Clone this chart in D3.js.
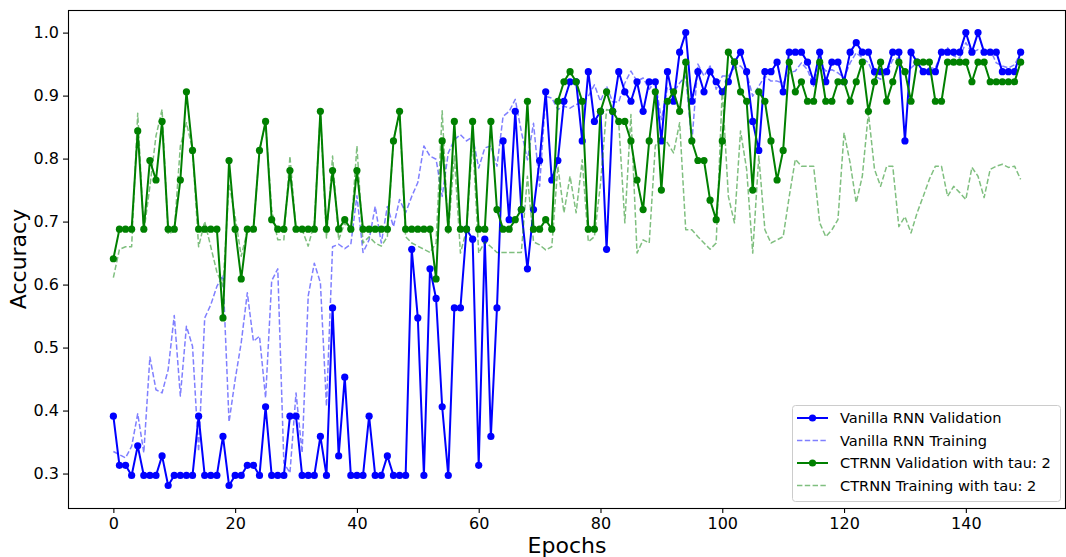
<!DOCTYPE html>
<html>
<head>
<meta charset="utf-8">
<script src="https://cdn.jsdelivr.net/npm/d3@7"></script>
<style>
  html, body { margin: 0; padding: 0; background: #ffffff; }
  svg { display: block; font-family: "DejaVu Sans", sans-serif; }
</style>
</head>
<body>
<svg id="chart" width="1066" height="557"></svg>
<script>
// ---------------- data ----------------
const xTicks = [0, 20, 40, 60, 80, 100, 120, 140];
const yTicks = [0.3, 0.4, 0.5, 0.6, 0.7, 0.8, 0.9, 1.0];
const seriesNames = [
  "Vanilla RNN Validation",
  "Vanilla RNN Training",
  "CTRNN Validation with tau: 2",
  "CTRNN Training with tau: 2"
];

const vanillaVal = [
  0.391,0.313,0.313,0.297,0.344,0.297,0.297,0.297,0.328,0.281,
  0.297,0.297,0.297,0.297,0.391,0.297,0.297,0.297,0.359,0.281,
  0.297,0.297,0.313,0.313,0.297,0.406,0.297,0.297,0.297,0.391,
  0.391,0.297,0.297,0.297,0.359,0.297,0.563,0.328,0.453,0.297,
  0.297,0.297,0.391,0.297,0.297,0.328,0.297,0.297,0.297,0.656,
  0.547,0.297,0.625,0.578,0.406,0.297,0.563,0.563,0.688,0.672,
  0.313,0.672,0.359,0.563,0.828,0.703,0.875,0.719,0.625,0.719,
  0.797,0.906,0.766,0.797,0.891,0.922,0.922,0.828,0.938,0.859,
  0.875,0.656,0.875,0.938,0.906,0.891,0.922,0.875,0.922,0.922,
  0.828,0.938,0.891,0.969,1.000,0.891,0.938,0.906,0.938,0.922,
  0.906,0.922,0.953,0.969,0.938,0.859,0.813,0.938,0.938,0.953,
  0.906,0.969,0.969,0.969,0.953,0.922,0.969,0.922,0.953,0.953,
  0.922,0.969,0.984,0.969,0.969,0.938,0.938,0.938,0.969,0.969,
  0.828,0.969,0.953,0.938,0.938,0.938,0.969,0.969,0.969,0.969,
  1.000,0.969,1.000,0.969,0.969,0.969,0.938,0.938,0.938,0.969
];

const vanillaTrain = [
  0.335,0.330,0.325,0.343,0.395,0.333,0.485,0.433,0.428,0.465,
  0.551,0.423,0.534,0.502,0.335,0.547,0.568,0.597,0.615,0.382,
  0.449,0.508,0.587,0.510,0.518,0.420,0.606,0.625,0.317,0.301,
  0.428,0.333,0.582,0.634,0.603,0.407,0.660,0.664,0.657,0.664,
  0.741,0.651,0.671,0.724,0.666,0.724,0.692,0.735,0.714,0.740,
  0.762,0.820,0.804,0.799,0.740,0.809,0.830,0.838,0.828,0.835,
  0.785,0.817,0.820,0.788,0.867,0.875,0.894,0.843,0.798,0.856,
  0.756,0.899,0.896,0.878,0.883,0.880,0.886,0.888,0.899,0.917,
  0.891,0.915,0.890,0.890,0.920,0.939,0.923,0.928,0.910,0.923,
  0.862,0.913,0.905,0.920,0.931,0.825,0.950,0.931,0.947,0.910,
  0.931,0.931,0.944,0.947,0.936,0.899,0.915,0.931,0.923,0.923,
  0.920,0.936,0.939,0.952,0.941,0.915,0.952,0.939,0.941,0.936,
  0.928,0.952,0.968,0.960,0.952,0.931,0.926,0.936,0.957,0.960,
  0.931,0.944,0.952,0.941,0.944,0.944,0.968,0.976,0.963,0.960,
  0.984,0.968,0.973,0.970,0.973,0.952,0.947,0.944,0.949,0.968
];

const ctrnnVal = [
  0.641,0.688,0.688,0.688,0.844,0.688,0.797,0.766,0.859,0.688,
  0.688,0.766,0.906,0.813,0.688,0.688,0.688,0.688,0.547,0.797,
  0.688,0.609,0.688,0.688,0.813,0.859,0.703,0.688,0.688,0.781,
  0.688,0.688,0.688,0.688,0.875,0.688,0.781,0.688,0.703,0.688,
  0.781,0.688,0.688,0.688,0.688,0.688,0.828,0.875,0.688,0.688,
  0.688,0.688,0.688,0.609,0.828,0.688,0.859,0.688,0.688,0.859,
  0.688,0.688,0.859,0.719,0.688,0.688,0.703,0.719,0.891,0.688,
  0.688,0.703,0.688,0.891,0.922,0.938,0.922,0.891,0.688,0.688,
  0.875,0.906,0.875,0.859,0.859,0.828,0.766,0.719,0.828,0.906,
  0.750,0.891,0.906,0.875,0.953,0.828,0.797,0.797,0.734,0.703,
  0.828,0.969,0.953,0.906,0.891,0.750,0.906,0.891,0.828,0.766,
  0.813,0.953,0.906,0.922,0.891,0.891,0.953,0.891,0.891,0.922,
  0.922,0.891,0.922,0.953,0.875,0.922,0.953,0.891,0.922,0.953,
  0.938,0.891,0.953,0.953,0.953,0.891,0.891,0.953,0.953,0.953,
  0.953,0.922,0.953,0.953,0.922,0.922,0.922,0.922,0.922,0.953
];

const ctrnnTrain = [
  0.611,0.656,0.660,0.660,0.872,0.683,0.756,0.836,0.878,0.680,
  0.685,0.820,0.857,0.814,0.660,0.700,0.660,0.620,0.597,0.760,
  0.708,0.645,0.685,0.687,0.814,0.857,0.719,0.671,0.671,0.804,
  0.687,0.687,0.661,0.698,0.873,0.674,0.804,0.671,0.698,0.682,
  0.820,0.666,0.676,0.666,0.661,0.676,0.830,0.873,0.676,0.666,
  0.661,0.656,0.651,0.666,0.876,0.680,0.804,0.650,0.687,0.830,
  0.650,0.668,0.660,0.651,0.651,0.651,0.651,0.651,0.772,0.668,
  0.663,0.655,0.660,0.788,0.714,0.772,0.714,0.798,0.668,0.676,
  0.760,0.878,0.875,0.857,0.698,0.870,0.650,0.671,0.666,0.820,
  0.836,0.825,0.809,0.857,0.687,0.687,0.676,0.666,0.656,0.666,
  0.910,0.740,0.698,0.844,0.783,0.650,0.804,0.687,0.666,0.671,
  0.676,0.740,0.799,0.788,0.788,0.788,0.698,0.676,0.687,0.703,
  0.841,0.793,0.730,0.772,0.873,0.783,0.756,0.788,0.788,0.692,
  0.708,0.682,0.714,0.740,0.767,0.788,0.788,0.740,0.756,0.746,
  0.735,0.786,0.772,0.738,0.783,0.788,0.791,0.786,0.788,0.767
];

// ---------------- layout ----------------
const plot = { left: 68, right: 1066, top: 10, bottom: 508 };
const nPts = vanillaVal.length;
const xPad = (nPts - 1) * 0.05;

const svg = d3.select("#chart");
const x = d3.scaleLinear().domain([-xPad, (nPts - 1) + xPad]).range([plot.left, plot.right]);
const y = d3.scaleLinear().domain([0.2453, 1.0359]).range([plot.bottom, plot.top]);

const BLUE = "#0000ff", GREEN = "#008000";

svg.append("defs").append("clipPath").attr("id", "clip")
  .append("rect").attr("x", plot.left).attr("y", plot.top)
  .attr("width", plot.right - plot.left).attr("height", plot.bottom - plot.top);

const series = [
  { name: seriesNames[0], values: vanillaVal, color: BLUE, dashed: false, marker: true },
  { name: seriesNames[1], values: vanillaTrain, color: BLUE, dashed: true, marker: false },
  { name: seriesNames[2], values: ctrnnVal, color: GREEN, dashed: false, marker: true },
  { name: seriesNames[3], values: ctrnnTrain, color: GREEN, dashed: true, marker: false }
];

const line = d3.line().x((d, i) => x(i)).y(d => y(d));
const g = svg.append("g").attr("clip-path", "url(#clip)");

series.forEach(s => {
  const sg = g.append("g");
  sg.append("path").datum(s.values)
    .attr("d", line)
    .attr("fill", "none")
    .attr("stroke", s.color)
    .attr("stroke-opacity", s.dashed ? 0.5 : 1)
    .attr("stroke-width", s.dashed ? 1.5 : 2)
    .attr("stroke-dasharray", s.dashed ? "5.4,2.4" : null)
    .attr("stroke-linejoin", "round");
  if (s.marker) {
    sg.selectAll("circle").data(s.values).enter().append("circle")
      .attr("cx", (d, i) => x(i)).attr("cy", d => y(d))
      .attr("r", 3.6).attr("fill", s.color);
  }
});

// ---------------- axes ----------------
const xAxis = d3.axisBottom(x).tickValues(xTicks).tickFormat(d3.format("d"))
  .tickSize(5).tickSizeOuter(0).tickPadding(5);
const yAxis = d3.axisLeft(y).tickValues(yTicks).tickFormat(d3.format(".1f"))
  .tickSize(5).tickSizeOuter(0).tickPadding(4);

const gx = svg.append("g").attr("transform", `translate(0,${plot.bottom})`).call(xAxis);
const gy = svg.append("g").attr("transform", `translate(${plot.left},0)`).call(yAxis);
[gx, gy].forEach(a => {
  a.select(".domain").remove();
  a.selectAll(".tick line").attr("stroke", "#000").attr("stroke-width", 1.1);
  a.selectAll(".tick text").attr("fill", "#000")
    .style("font-family", "DejaVu Sans").style("font-size", "16px");
});

// frame
svg.append("rect")
  .attr("x", plot.left + 0.5).attr("y", plot.top + 0.5)
  .attr("width", plot.right - plot.left - 1).attr("height", plot.bottom - plot.top)
  .attr("fill", "none").attr("stroke", "#000").attr("stroke-width", 1.1);

// axis labels
svg.append("text")
  .attr("x", (plot.left + plot.right) / 2).attr("y", 553)
  .attr("text-anchor", "middle")
  .style("font-size", "22px").attr("fill", "#000")
  .text("Epochs");
svg.append("text")
  .attr("transform", `translate(26,${(plot.top + plot.bottom) / 2}) rotate(-90)`)
  .attr("text-anchor", "middle")
  .style("font-size", "22px").attr("fill", "#000")
  .text("Accuracy");

// ---------------- legend ----------------
const lg = svg.append("g");
lg.append("rect")
  .attr("x", 792.5).attr("y", 405.5).attr("width", 268).attr("height", 96)
  .attr("rx", 3).attr("ry", 3)
  .attr("fill", "#ffffff").attr("fill-opacity", 0.8)
  .attr("stroke", "#cccccc").attr("stroke-width", 1);

series.forEach((s, i) => {
  const yy = 418 + i * 22.5;
  lg.append("line")
    .attr("x1", 797).attr("x2", 828).attr("y1", yy).attr("y2", yy)
    .attr("stroke", s.color)
    .attr("stroke-opacity", s.dashed ? 0.5 : 1)
    .attr("stroke-width", s.dashed ? 1.5 : 2)
    .attr("stroke-dasharray", s.dashed ? "5.4,2.4" : null);
  if (s.marker) {
    lg.append("circle").attr("cx", 812.5).attr("cy", yy).attr("r", 3.6).attr("fill", s.color);
  }
  lg.append("text")
    .attr("x", 840).attr("y", yy).attr("dy", "0.36em")
    .style("font-size", "14.6px").attr("fill", "#000")
    .text(s.name);
});
</script>
</body>
</html>
